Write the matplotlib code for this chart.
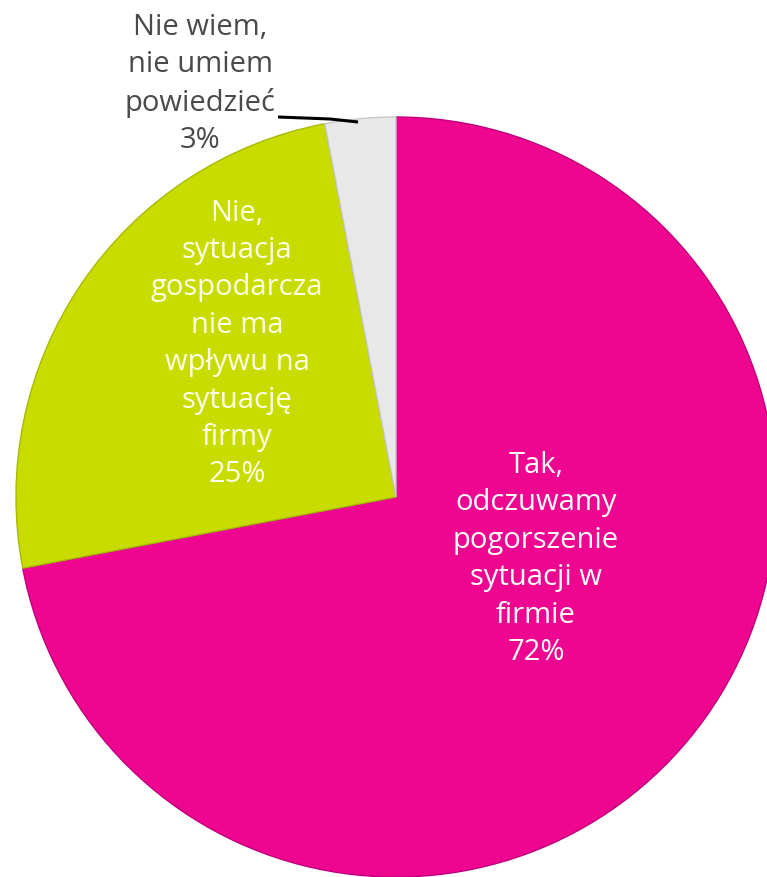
import matplotlib
matplotlib.use("Agg")
import matplotlib.pyplot as plt

# dane
labels = ["Tak,\nodczuwamy\npogorszenie\nsytuacji w\nfirmie",
          "Nie,\nsytuacja\ngospodarcza\nnie ma\nwpływu na\nsytuację\nfirmy",
          "Nie wiem,\nnie umiem\npowiedzieć"]
values = [72, 25, 3]
colors = ["#EE0590", "#C8DC00", "#E8E8E8"]
edges = ["#C0007A", "#A8BA00", "#C8C8C8"]

plt.rcParams['font.family'] = ['Open Sans', 'DejaVu Sans']

fig = plt.figure(figsize=(7.67, 8.77), dpi=100)
ax = fig.add_axes([0, 0, 1, 1])

# y odwrocone -> startangle=-90 to gora, counterclock=True daje ruch zgodny z zegarem
wedges, _ = ax.pie(values, colors=colors, startangle=-90, counterclock=True,
                   center=(396, 497), radius=380, frame=True,
                   wedgeprops=dict(linewidth=1.0))
for w, ec in zip(wedges, edges):
    w.set_edgecolor(ec)
ax.set_xlim(0, 767)
ax.set_ylim(877, 0)
ax.set_aspect('equal')
ax.axis('off')

fs = 21
ax.text(536, 559, labels[0] + "\n%d%%" % values[0], color="white", fontsize=fs,
        ha="center", va="center", linespacing=1.38)
ax.text(237, 344, labels[1] + "\n%d%%" % values[1], color="#FFFFE6", fontsize=fs,
        ha="center", va="center", linespacing=1.38)
ax.text(200, 84, labels[2] + "\n%d%%" % values[2], color="#4A4A4A", fontsize=fs,
        ha="center", va="center", linespacing=1.38)

# linia odniesienia
ax.plot([278, 330, 358], [117, 119, 122], color="black", linewidth=2.2,
        solid_capstyle="butt")

fig.savefig("out.png", dpi=100)
